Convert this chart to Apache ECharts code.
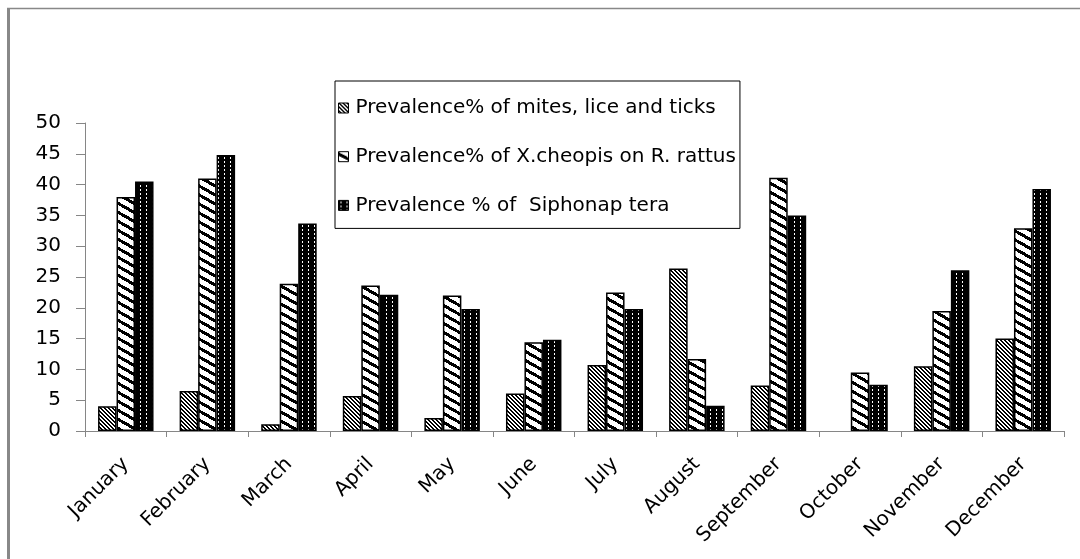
<!DOCTYPE html>
<html><head><meta charset="utf-8">
<script src="https://cdn.jsdelivr.net/npm/echarts@6/dist/echarts.min.js"></script>
<style>html,body{margin:0;padding:0;background:#fff}#c{width:1080px;height:559px}</style>
</head><body><div id="c"></div>
<script>
const categories = ['January','February','March','April','May','June','July','August','September','October','November','December'];
const seriesNames = ['Prevalence% of mites, lice and ticks','Prevalence% of X.cheopis on R. rattus','Prevalence % of  Siphonap tera'];
const mites = [4, 6.5, 1.1, 5.7, 2.1, 6.1, 10.7, 26.4, 7.4, null, 10.5, 15];
const xcheopis = [38, 41, 23.9, 23.6, 22, 14.4, 22.5, 11.7, 41.1, 9.5, 19.5, 32.9];
const siphonaptera = [40.5, 44.8, 33.7, 22.1, 19.8, 14.8, 19.8, 4.1, 35, 7.5, 26.1, 39.3];
const yTicks = {min: 0, max: 50, interval: 5};

function tile(w, h, fn) {
  const c = document.createElement('canvas'); c.width = w; c.height = h;
  const ctx = c.getContext('2d'); const img = ctx.createImageData(w, h);
  for (let y = 0; y < h; y++) for (let x = 0; x < w; x++) {
    const v = fn(x, y) ? 0 : 255; const i = (y * w + x) * 4;
    img.data[i] = img.data[i+1] = img.data[i+2] = v; img.data[i+3] = 255;
  }
  ctx.putImageData(img, 0, 0); return c;
}
const patFine = tile(4, 4, (x, y) => ((x - y + 8) % 4) < 2);
const patWide = tile(16, 9, (x, y) => { const d = ((y - x * 9 / 16) % 9 + 9) % 9; return d < 3.5; });
const patDots = tile(6, 4, (x, y) => !(x === 2 && (y === 1 || y === 2)));
const pats = [patFine, patWide, patDots];
const dataSets = [mites, xcheopis, siphonaptera];

const font = 'DejaVu Sans';
const chart = echarts.init(document.getElementById('c'), null, {renderer: 'canvas'});
chart.setOption({
  animation: false,
  backgroundColor: '#fff',
  grid: {left: 85, right: 16, top: 123, bottom: 128, containLabel: false},
  graphic: [
    {type: 'line', shape: {x1: 8.5, y1: 8, x2: 8.5, y2: 559}, style: {stroke: '#888', lineWidth: 3}},
    {type: 'line', shape: {x1: 7, y1: 8.5, x2: 1080, y2: 8.5}, style: {stroke: '#888', lineWidth: 1.5}}
  ],
  legend: {
    orient: 'vertical', left: 335, top: 81,
    backgroundColor: '#fff', borderColor: '#000', borderWidth: 1,
    padding: [17, 4, 13, 3], itemGap: 28.7, itemWidth: 10, itemHeight: 10,
    icon: 'rect',
    itemStyle: {borderColor: '#000', borderWidth: 1},
    textStyle: {fontFamily: font, fontSize: 20, color: '#000', lineHeight: 20, padding: [0, 0, 0, 2]},
    data: seriesNames
  },
  xAxis: {
    type: 'category', data: categories,
    axisLine: {lineStyle: {color: '#868686', width: 1}},
    axisTick: {show: true, length: 6, lineStyle: {color: '#868686'}},
    axisLabel: {rotate: 45, margin: 30, fontFamily: font, fontSize: 20, color: '#000', interval: 0}
  },
  yAxis: {
    type: 'value', min: yTicks.min, max: yTicks.max, interval: yTicks.interval,
    splitLine: {show: false},
    axisLine: {show: true, lineStyle: {color: '#868686', width: 1}},
    axisTick: {show: true, length: 9, lineStyle: {color: '#868686'}},
    axisLabel: {margin: 24, fontFamily: font, fontSize: 20, color: '#000'}
  },
  series: dataSets.map((d, i) => ({
    name: seriesNames[i], type: 'bar', data: d,
    barGap: '0%', barCategoryGap: '32%',
    itemStyle: {color: {image: pats[i], repeat: 'repeat'}, borderColor: '#000', borderWidth: 1.5}
  }))
});
</script></body></html>
